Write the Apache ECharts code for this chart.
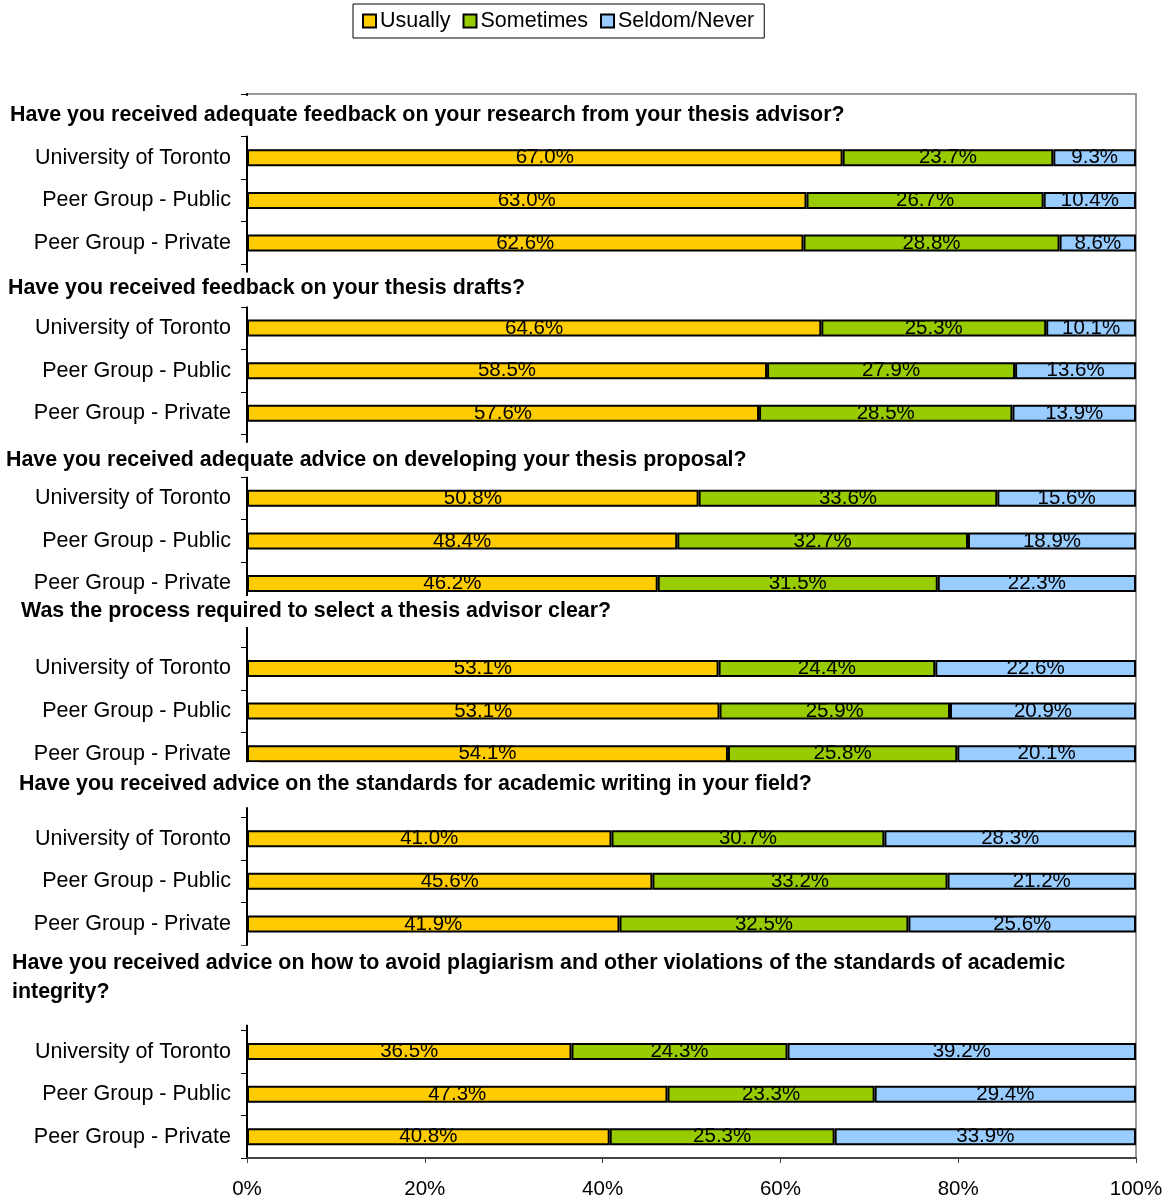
<!DOCTYPE html>
<html>
<head>
<meta charset="utf-8">
<script src="https://cdn.jsdelivr.net/npm/echarts@6/dist/echarts.min.js"></script>
<style>html,body{margin:0;padding:0;background:#fff}#c{width:1169px;height:1201px}</style>
</head>
<body>
<div id="c"></div>
<script>
// ---- data ----
const questions = [
  "Have you received adequate feedback on your research from your thesis advisor?",
  "Have you received feedback on your thesis drafts?",
  "Have you received adequate advice on developing your thesis proposal?",
  "Was the process required to select a thesis advisor clear?",
  "Have you received advice on the standards for academic writing in your field?",
  "Have you received advice on how to avoid plagiarism and other violations of the standards of academic\nintegrity?"
];
const groups = ["University of Toronto", "Peer Group - Public", "Peer Group - Private"];
const seriesNames = ["Usually", "Sometimes", "Seldom/Never"];
// values per question: [UofT, Public, Private]
const usually   = [[67.0,63.0,62.6],[64.6,58.5,57.6],[50.8,48.4,46.2],[53.1,53.1,54.1],[41.0,45.6,41.9],[36.5,47.3,40.8]];
const sometimes = [[23.7,26.7,28.8],[25.3,27.9,28.5],[33.6,32.7,31.5],[24.4,25.9,25.8],[30.7,33.2,32.5],[24.3,23.3,25.3]];
const seldom    = [[9.3,10.4,8.6],[10.1,13.6,13.9],[15.6,18.9,22.3],[22.6,20.9,20.1],[28.3,21.2,25.6],[39.2,29.4,33.9]];
const blankSlots = [1,1,1,1,1,2];
const xTicks = [0,20,40,60,80,100];

// ---- layout (not data) ----
const qLayout = [
  {x:10, dy:-0.5, top:-19.5, bottom:20.5},
  {x:8,  dy:3,   top:-13, bottom:21},
  {x:6,  dy:4,   top:-13, bottom:21},
  {x:21, dy:-15, top:-30, bottom:1},
  {x:19, dy:-12, top:-34, bottom:11},
  {x:12, dy:-10.5, top:-42, bottom:37}
];

// ---- build categories ----
const cats = [];
const vals = [[],[],[]];
const raw = [[],[],[]];
const qSlots = [];
const all = [usually, sometimes, seldom];
questions.forEach((q, qi) => {
  const slots = [];
  for (let b = 0; b < blankSlots[qi]; b++) {
    slots.push(cats.length);
    cats.push('');
    for (let s = 0; s < 3; s++) { vals[s].push(null); raw[s].push(null); }
  }
  qSlots.push(slots);
  groups.forEach((g, gi) => {
    cats.push(g);
    const sum = all[0][qi][gi] + all[1][qi][gi] + all[2][qi][gi];
    for (let s = 0; s < 3; s++) {
      vals[s].push(all[s][qi][gi] / sum * 100);
      raw[s].push(all[s][qi][gi]);
    }
  });
});

const colors = ['#FFCC00', '#99CC00', '#99CCFF'];
const FONT = "'Liberation Sans', Arial, sans-serif";

const chart = echarts.init(document.getElementById('c'), null, {renderer: 'canvas'});
chart.setOption({
  animation: false,
  backgroundColor: '#fff',
  textStyle: {fontFamily: FONT},
  legend: {
    left: 353, top: 4,
    padding: [6, 10, 6, 9],
    borderColor: '#000', borderWidth: 1,
    itemWidth: 13, itemHeight: 13, itemGap: 12,
    icon: 'rect',
    textStyle: {fontSize: 21.5, color: '#000', fontFamily: FONT, padding: [0,0,0,-1]},
    data: seriesNames
  },
  grid: {
    left: 247, right: 33, top: 94, bottom: 43,
    show: true, borderColor: '#999', borderWidth: 2, backgroundColor: 'transparent'
  },
  xAxis: {
    type: 'value', min: 0, max: 100, interval: 20,
    axisLine: {show: true, lineStyle: {color: '#444', width: 2}},
    axisTick: {show: true, length: 5, lineStyle: {color: '#444', width: 1}},
    splitLine: {show: false},
    axisLabel: {
      fontSize: 20.5, color: '#000', fontFamily: FONT, margin: 21,
      formatter: v => xTicks.includes(v) ? v + '%' : ''
    }
  },
  yAxis: {
    type: 'category', inverse: true, data: cats,
    axisLine: {show: true, lineStyle: {color: '#000', width: 2}},
    axisTick: {show: true, length: 6, lineStyle: {color: '#000', width: 1}, interval: 0},
    axisLabel: {fontSize: 21.5, color: '#000', fontFamily: FONT, margin: 16, interval: 0, padding: [3,0,0,0]}
  },
  series: seriesNames.map((n, s) => ({
    name: n, type: 'bar', stack: 'total', barWidth: 17,
    data: vals[s],
    itemStyle: {color: colors[s], borderColor: '#000', borderWidth: 2},
    label: {
      show: true, position: 'inside', color: '#000', fontSize: 20.5, fontFamily: FONT,
      padding: [2,0,0,0],
      formatter: p => raw[s][p.dataIndex] == null ? '' : raw[s][p.dataIndex].toFixed(1) + '%'
    },
    emphasis: {disabled: true}
  }))
});

// question titles with white boxes over the axis line, positioned from the category scale
const gfx = [];
questions.forEach((q, qi) => {
  const sl = qSlots[qi];
  const y0 = chart.convertToPixel({yAxisIndex: 0}, sl[0]);
  const y1 = chart.convertToPixel({yAxisIndex: 0}, sl[sl.length - 1]);
  const cy = (y0 + y1) / 2;
  const L = qLayout[qi];
  gfx.push({
    type: 'rect', z: 100,
    shape: {x: 238, y: cy + L.top, width: 22, height: L.bottom - L.top},
    style: {fill: '#fff'}
  });
  gfx.push({
    type: 'text', z: 101,
    x: L.x, y: cy + L.dy,
    style: {
      text: q, fill: '#000', font: "bold 21.4px " + FONT,
      textVerticalAlign: 'middle', verticalAlign: 'middle', lineHeight: 29
    }
  });
});
chart.setOption({graphic: gfx});
</script>
</body>
</html>
